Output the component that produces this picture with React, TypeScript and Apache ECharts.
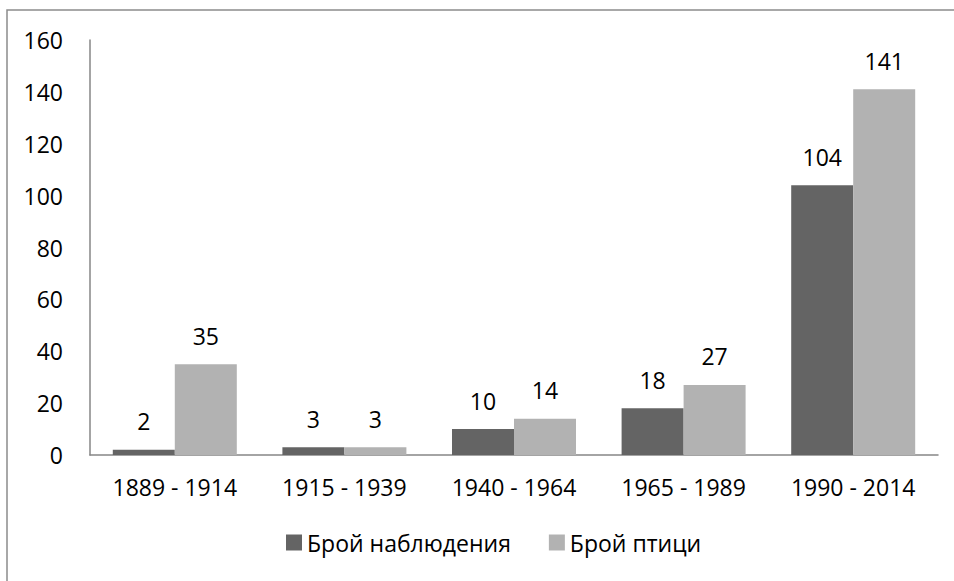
import React, { useEffect, useRef } from "react";
import * as echarts from "echarts";

const categories = ["1889 - 1914", "1915 - 1939", "1940 - 1964", "1965 - 1989", "1990 - 2014"];
const observations = [2, 3, 10, 18, 104];
const birds = [35, 3, 14, 27, 141];
const seriesNames = ["Брой наблюдения", "Брой птици"];

const FONT = "'Open Sans', sans-serif";
const FS = 23;

export default function App() {
  const ref = useRef<HTMLDivElement>(null);
  useEffect(() => {
    if (!ref.current) return;
    const chart = echarts.init(ref.current, null, { renderer: "svg" });
    const labelStyle = {
      show: true,
      position: "top" as const,
      distance: 17,
      color: "#000",
      fontFamily: FONT,
      fontSize: FS,
    };
    chart.setOption({
      animation: false,
      backgroundColor: "#fff",
      textStyle: { fontFamily: FONT },
      graphic: [
        {
          type: "rect",
          shape: { x: 7, y: 10, width: 1200, height: 1200 },
          style: { fill: "none", stroke: "#8c8c8c", lineWidth: 1.5 },
          silent: true,
        },
      ],
      grid: { left: 90, right: 16, top: 40, bottom: 126, containLabel: false },
      legend: {
        left: 281,
        top: 526,
        icon: "rect",
        itemWidth: 16,
        itemHeight: 16,
        itemGap: 38,
        textStyle: { fontFamily: FONT, fontSize: FS, color: "#000" },
        data: seriesNames,
      },
      xAxis: {
        type: "category",
        data: categories,
        axisLine: { show: true, lineStyle: { color: "#868686", width: 1.5 } },
        axisTick: { show: false },
        axisLabel: { color: "#000", fontFamily: FONT, fontSize: FS, margin: 20 },
      },
      yAxis: {
        type: "value",
        min: 0,
        max: 160,
        interval: 20,
        splitLine: { show: false },
        axisLine: { show: true, lineStyle: { color: "#868686", width: 1.5 } },
        axisTick: { show: false },
        axisLabel: { color: "#000", fontFamily: FONT, fontSize: FS, margin: 27 },
      },
      series: [
        {
          name: seriesNames[0],
          type: "bar",
          data: observations,
          barWidth: 62,
          barGap: "0%",
          itemStyle: { color: "#646464" },
          label: labelStyle,
        },
        {
          name: seriesNames[1],
          type: "bar",
          data: birds,
          barWidth: 62,
          barGap: "0%",
          itemStyle: { color: "#b2b2b2" },
          label: labelStyle,
        },
      ],
    });
    return () => chart.dispose();
  }, []);
  return (
    <div
      ref={ref}
      style={{ position: "fixed", left: 0, top: 0, width: 954, height: 581 }}
    />
  );
}
